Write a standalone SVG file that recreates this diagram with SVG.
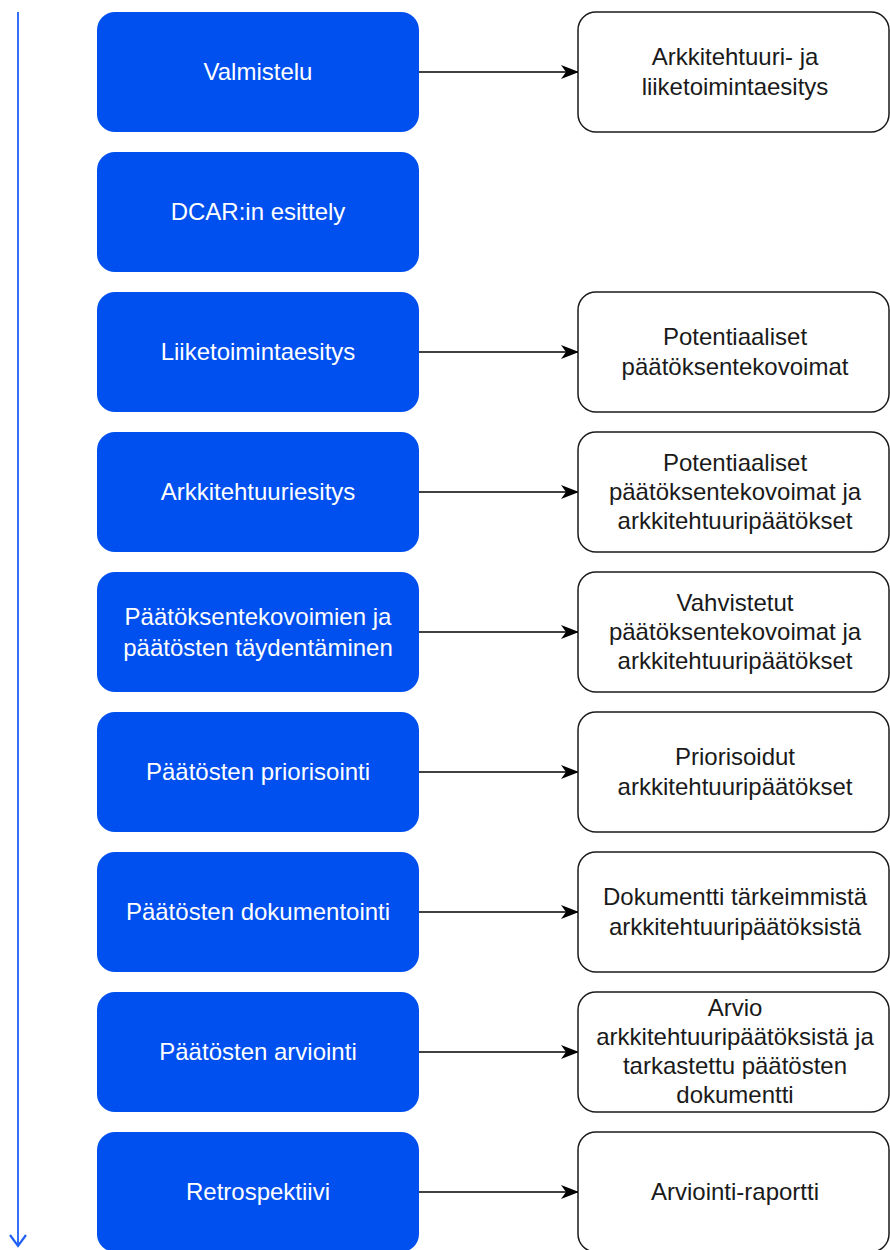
<svg xmlns="http://www.w3.org/2000/svg" width="890" height="1250" viewBox="0 0 890 1250">
<defs>
<style>
.step{fill:#0050ef;stroke:none}
.out{fill:#ffffff;stroke:#1a1a1a;stroke-width:1.5}
.st{font-family:"Liberation Sans",Arial,sans-serif;font-size:24px;fill:#ffffff;text-anchor:middle}
.ot{font-family:"Liberation Sans",Arial,sans-serif;font-size:24px;fill:#1a1a1a;text-anchor:middle}
.conn{stroke:#000000;stroke-width:1.5;fill:none}
</style>
<marker id="arr" viewBox="0 0 18 16" refX="17" refY="8" markerWidth="18" markerHeight="16" markerUnits="userSpaceOnUse" orient="auto">
<path d="M0,1 L18,8 L0,15 L5,8 Z" fill="#000000"/>
</marker>
</defs>
<rect width="890" height="1250" fill="#ffffff"/>
<g id="connectors">
<line x1="18" y1="12" x2="18" y2="1246" stroke="#1f5ff5" stroke-width="1.8"/>
<polyline points="10,1235 18,1246 26,1235" fill="none" stroke="#1f5ff5" stroke-width="2.2"/>
<line class="conn" x1="419" y1="72" x2="578" y2="72" marker-end="url(#arr)"/>
<line class="conn" x1="419" y1="352" x2="578" y2="352" marker-end="url(#arr)"/>
<line class="conn" x1="419" y1="492" x2="578" y2="492" marker-end="url(#arr)"/>
<line class="conn" x1="419" y1="632" x2="578" y2="632" marker-end="url(#arr)"/>
<line class="conn" x1="419" y1="772" x2="578" y2="772" marker-end="url(#arr)"/>
<line class="conn" x1="419" y1="912" x2="578" y2="912" marker-end="url(#arr)"/>
<line class="conn" x1="419" y1="1052" x2="578" y2="1052" marker-end="url(#arr)"/>
<line class="conn" x1="419" y1="1192" x2="578" y2="1192" marker-end="url(#arr)"/>
</g>
<g id="s1"><rect class="step" x="97" y="12" width="322" height="120" rx="18"/><text class="st" x="258" y="80">Valmistelu</text></g>
<g id="s2"><rect class="step" x="97" y="152" width="322" height="120" rx="18"/><text class="st" x="258" y="220">DCAR:in esittely</text></g>
<g id="s3"><rect class="step" x="97" y="292" width="322" height="120" rx="18"/><text class="st" x="258" y="360">Liiketoimintaesitys</text></g>
<g id="s4"><rect class="step" x="97" y="432" width="322" height="120" rx="18"/><text class="st" x="258" y="500">Arkkitehtuuriesitys</text></g>
<g id="s5"><rect class="step" x="97" y="572" width="322" height="120" rx="18"/><text class="st" x="258" y="625">Päätöksentekovoimien ja<tspan x="258" dy="31">päätösten täydentäminen</tspan></text></g>
<g id="s6"><rect class="step" x="97" y="712" width="322" height="120" rx="18"/><text class="st" x="258" y="780">Päätösten priorisointi</text></g>
<g id="s7"><rect class="step" x="97" y="852" width="322" height="120" rx="18"/><text class="st" x="258" y="920">Päätösten dokumentointi</text></g>
<g id="s8"><rect class="step" x="97" y="992" width="322" height="120" rx="18"/><text class="st" x="258" y="1060">Päätösten arviointi</text></g>
<g id="s9"><rect class="step" x="97" y="1132" width="322" height="120" rx="18"/><text class="st" x="258" y="1200">Retrospektiivi</text></g>
<g id="o1"><rect class="out" x="578" y="12" width="311" height="120" rx="18"/><text class="ot" x="735" y="65">Arkkitehtuuri- ja<tspan x="735" dy="30">liiketoimintaesitys</tspan></text></g>
<g id="o3"><rect class="out" x="578" y="292" width="311" height="120" rx="18"/><text class="ot" x="735" y="345">Potentiaaliset<tspan x="735" dy="30">päätöksentekovoimat</tspan></text></g>
<g id="o4"><rect class="out" x="578" y="432" width="311" height="120" rx="18"/><text class="ot" x="735" y="471">Potentiaaliset<tspan x="735" dy="29">päätöksentekovoimat ja</tspan><tspan x="735" dy="29">arkkitehtuuripäätökset</tspan></text></g>
<g id="o5"><rect class="out" x="578" y="572" width="311" height="120" rx="18"/><text class="ot" x="735" y="611">Vahvistetut<tspan x="735" dy="29">päätöksentekovoimat ja</tspan><tspan x="735" dy="29">arkkitehtuuripäätökset</tspan></text></g>
<g id="o6"><rect class="out" x="578" y="712" width="311" height="120" rx="18"/><text class="ot" x="735" y="765">Priorisoidut<tspan x="735" dy="30">arkkitehtuuripäätökset</tspan></text></g>
<g id="o7"><rect class="out" x="578" y="852" width="311" height="120" rx="18"/><text class="ot" x="735" y="905">Dokumentti tärkeimmistä<tspan x="735" dy="30">arkkitehtuuripäätöksistä</tspan></text></g>
<g id="o8"><rect class="out" x="578" y="992" width="311" height="120" rx="18"/><text class="ot" x="735" y="1016">Arvio<tspan x="735" dy="29">arkkitehtuuripäätöksistä ja</tspan><tspan x="735" dy="29">tarkastettu päätösten</tspan><tspan x="735" dy="29">dokumentti</tspan></text></g>
<g id="o9"><rect class="out" x="578" y="1132" width="311" height="120" rx="18"/><text class="ot" x="735" y="1200">Arviointi-raportti</text></g>
</svg>
